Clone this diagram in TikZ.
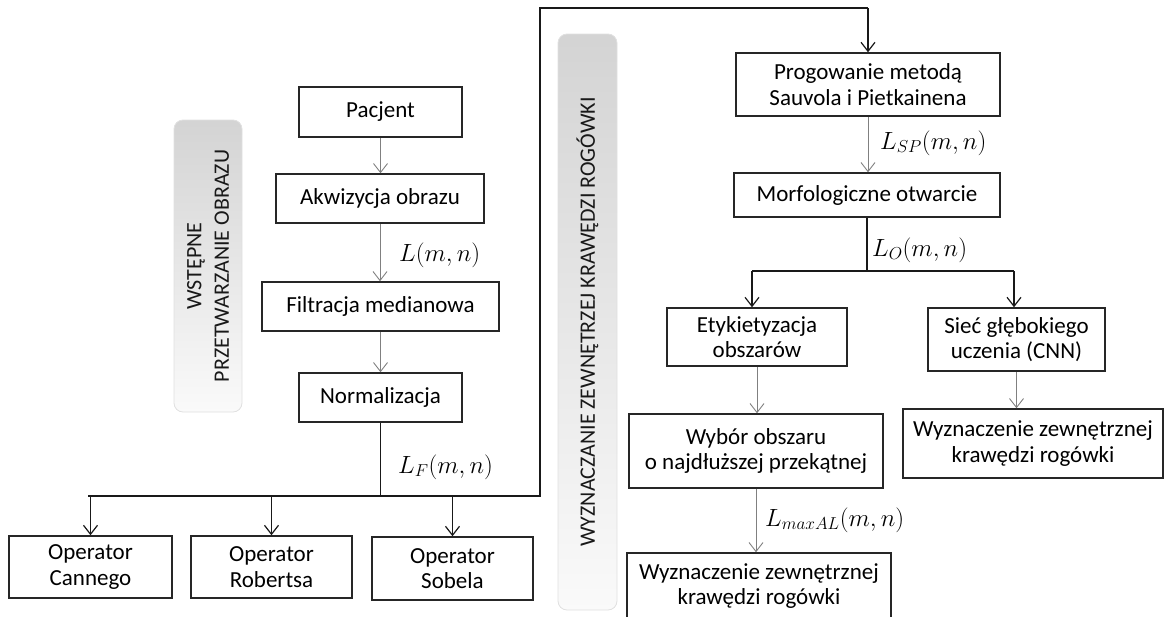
\documentclass[tikz,border=0pt]{standalone}
\usepackage{fontspec}
\setmainfont{Carlito}
\usetikzlibrary{arrows.meta,calc}
\begin{document}
\begin{tikzpicture}[x=1pt,y=-1pt,
  box/.style={draw=black!85,line width=1.5pt,fill=white,align=center,inner sep=0pt,
    font=\fontsize{23}{25.5}\selectfont},
  gline/.style={draw=black!50,line width=0.9pt,-{Straight Barb[length=9pt,width=14pt,line width=0.9pt]}},
  bline/.style={draw=black!90,line width=1.3pt},
  barrow/.style={bline,-{Straight Barb[length=9pt,width=14pt,line width=1.2pt]}},
  lab/.style={anchor=west,inner sep=0pt,font=\fontsize{25.5}{30}\selectfont},
  band/.style={rounded corners=9pt,draw=black!12,line width=0.8pt,top color=black!17,bottom color=black!2,
    rotate=90,align=center,text=black!90,font=\fontsize{22}{27.5}\selectfont}
]
\useasboundingbox (0,0) rectangle (1165,616);
\clip (0,0) rectangle (1165,616);

% bands
\node[band,minimum width=292pt,minimum height=68pt] (g1) at (208,266) {WSTĘPNE\\PRZETWARZANIE OBRAZU};
\node[band,minimum width=576pt,minimum height=59pt] (g2) at (587.5,322) {WYZNACZANIE ZEWNĘTRZEJ KRAWĘDZI ROGÓWKI};

% left column
\node[box,minimum width=163pt,minimum height=50pt] (pac) at (380.5,112) {Pacjent};
\node[box,minimum width=208pt,minimum height=49pt] (akw) at (380,198.5) {Akwizycja obrazu};
\node[box,minimum width=237pt,minimum height=49pt] (fil) at (380.5,306.5) {Filtracja medianowa};
\node[box,minimum width=163pt,minimum height=49pt] (nor) at (380.5,397.5) {Normalizacja};

\node[box,minimum width=163pt,minimum height=62pt] (can) at (90.5,567) {Operator\\Cannego};
\node[box,minimum width=161pt,minimum height=62pt] (rob) at (271.5,567) {Operator\\Robertsa};
\node[box,minimum width=161pt,minimum height=63pt] (sob) at (452.5,568.5) {Operator\\Sobela};

% right part
\node[box,minimum width=264pt,minimum height=63pt] (pro) at (868,84.5) {Progowanie metodą\\Sauvola i Pietkainena};
\node[box,minimum width=266pt,minimum height=44pt] (mor) at (867,195) {Morfologiczne otwarcie};
\node[box,minimum width=180pt,minimum height=58pt] (ety) at (757,337) {Etykietyzacja\\obszarów};
\node[box,minimum width=177pt,minimum height=63pt] (sie) at (1016.5,339.5) {Sieć głębokiego\\uczenia (CNN)};
\node[box,minimum width=254pt,minimum height=74pt] (wyb) at (756,451) {Wybór obszaru\\o najdłuższej przekątnej};
\node[box,minimum width=264pt,minimum height=66pt] (wz1) at (759,586) {Wyznaczenie zewnętrznej\\krawędzi rogówki};
\node[box,minimum width=260pt,minimum height=69pt] (wz2) at (1033,443.5) {Wyznaczenie zewnętrznej\\krawędzi rogówki};

% labels
\node[lab] (l1) at (399,255) {$L(m,n)$};
\node[lab] (l2) at (398,467) {$L_F(m,n)$};
\node[lab] (l3) at (880,143) {$L_{SP}(m,n)$};
\node[lab] (l4) at (872,250) {$L_O(m,n)$};
\node[lab] (l5) at (765,520) {$L_{maxAL}(m,n)$};

% gray connectors
\draw[gline] (pac.south) -- (pac.south |- akw.north);
\draw[gline] (akw.south) -- (akw.south |- fil.north);
\draw[gline] (fil.south) -- (fil.south |- nor.north);
\draw[gline] (pro.south) -- (pro.south |- mor.north);
\draw[gline] (ety.south) -- (ety.south |- wyb.north);
\draw[gline] (wyb.south) -- (wyb.south |- wz1.north);
\draw[gline] (sie.south) -- (sie.south |- wz2.north);

% black connectors: normalization split
\coordinate (yF) at (0,496);
\coordinate (jL) at (88,496);
\coordinate (jR) at (540,496);
\coordinate (jT) at (540,8);
\coordinate (yT) at (0,8);
\draw[bline] (nor.south) -- (nor.south |- yF);
\draw[bline,line join=miter] (jL) -- (jR) -- (jT) -- (pro.north |- yT);
\draw[barrow] (pro.north |- yT) -- (pro.north);
\draw[barrow] (can.north |- yF) -- (can.north);
\draw[barrow] (rob.north |- yF) -- (rob.north);
\draw[barrow] (sob.north |- yF) -- (sob.north);

% morphological split
\coordinate (yO) at (0,271);
\coordinate (bE) at (752,271);
\coordinate (bS) at (1014,271);
\draw[bline] (mor.south) -- (mor.south |- yO);
\draw[bline] (bE) -- (bS);
\draw[barrow] (bE) -- (bE |- ety.north);
\draw[barrow] (bS) -- (bS |- sie.north);
\end{tikzpicture}
\end{document}
